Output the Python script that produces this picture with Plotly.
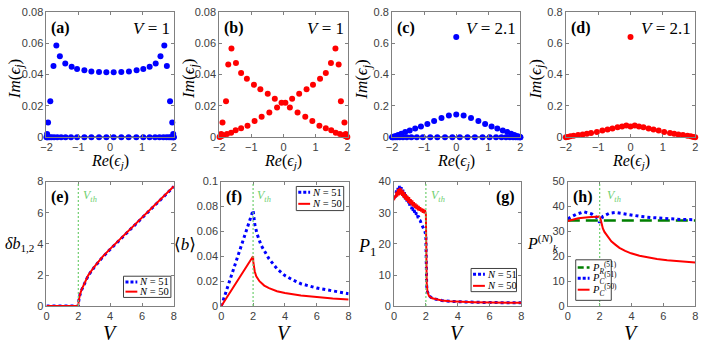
import plotly.graph_objects as go
from plotly.subplots import make_subplots

# ---- top row: eigenvalue spectra ----
zero_row_x = [-2.0, -1.98, -1.95, -1.9, -1.84, -1.76, -1.66, -1.54, -1.4, -1.23, -1.04, -0.81, -0.59,
              -0.35, -0.12, 0.11, 0.35, 0.58, 0.82, 1.04, 1.24, 1.41, 1.55, 1.67, 1.77, 1.85, 1.91,
              1.96, 1.99, 2.0]
zero_row_y = [0.0] * len(zero_row_x)
axis_line_x = [-2, 2]
axis_line_y = [0, 0]

a_x = [-1.98, -1.95, -1.88, -1.78, -1.69, -1.58, -1.41, -1.21, -1.04, -0.81, -0.59, -0.35, -0.12,
       0.11, 0.35, 0.59, 0.83, 1.04, 1.24, 1.43, 1.58, 1.70, 1.78, 1.88, 1.95, 1.98]
a_y = [0.002, 0.0094, 0.023, 0.0455, 0.0585, 0.0517, 0.047, 0.0449, 0.0435, 0.0427, 0.042, 0.0416,
       0.0414, 0.0414, 0.0416, 0.042, 0.0427, 0.0435, 0.0449, 0.047, 0.0517, 0.0585, 0.0455, 0.023,
       0.0094, 0.002]

b1_x = [-1.97, -1.94, -1.9, -1.79, -1.72, -1.62, -1.48, -1.32, -1.14, -0.92, -0.72, -0.49, -0.27,
        -0.06, 0.2, 0.44, 0.68, 0.9, 1.12, 1.32, 1.49, 1.63, 1.76, 1.87, 1.94, 1.99]
b1_y = [0.0005, 0.002, 0.0094, 0.023, 0.0464, 0.0566, 0.0474, 0.041, 0.0373, 0.0334, 0.0306, 0.0277,
        0.0246, 0.022, 0.019, 0.0158, 0.0131, 0.0103, 0.0074, 0.0057, 0.0045, 0.0029, 0.002, 0.0012,
        0.0006, 0.0002]
b2_x = [1.97, 1.94, 1.9, 1.79, 1.72, 1.62, 1.48, 1.32, 1.14, 0.92, 0.72, 0.49, 0.27,
        0.06, -0.2, -0.44, -0.68, -0.9, -1.12, -1.32, -1.49, -1.63, -1.76, -1.87, -1.94, -1.99]
b2_y = [0.0005, 0.002, 0.0094, 0.023, 0.0464, 0.0566, 0.0474, 0.041, 0.0373, 0.0334, 0.0306, 0.0277,
        0.0246, 0.022, 0.019, 0.0158, 0.0131, 0.0103, 0.0074, 0.0057, 0.0045, 0.0029, 0.002, 0.0012,
        0.0006, 0.0002]

c_x = [-1.98, -1.94, -1.88, -1.81, -1.71, -1.59, -1.45, -1.28, -1.1, -0.9, -0.69, -0.46, -0.23, 0.0,
       0.23, 0.46, 0.69, 0.9, 1.1, 1.28, 1.45, 1.59, 1.71, 1.81, 1.88, 1.94, 1.98]
c_y = [0.001, 0.004, 0.008, 0.014, 0.022, 0.033, 0.043, 0.055, 0.068, 0.085, 0.103, 0.122, 0.138, 0.145,
       0.138, 0.122, 0.103, 0.085, 0.068, 0.055, 0.043, 0.033, 0.022, 0.014, 0.008, 0.004, 0.001]
isolated_x = [0.0]
isolated_y = [0.64]

d_x = [-2.0, -1.94, -1.86, -1.76, -1.62, -1.48, -1.35, -1.22, -1.04, -0.87, -0.71, -0.56, -0.40, -0.26,
       -0.13, 0.0, 0.13, 0.26, 0.40, 0.56, 0.71, 0.87, 1.04, 1.22, 1.35, 1.48, 1.62, 1.76, 1.86, 1.94, 2.0]
d_y = [0.0, 0.002, 0.006, 0.01, 0.014, 0.018, 0.023, 0.027, 0.033, 0.043, 0.049, 0.055, 0.064, 0.068,
       0.075, 0.069, 0.075, 0.068, 0.064, 0.055, 0.049, 0.043, 0.033, 0.027, 0.023, 0.018, 0.014, 0.01,
       0.006, 0.002, 0.0]

# ---- bottom row: observables vs V ----
e_V = [0, 1, 1.99, 2.0, 2.02, 2.05, 2.1, 2.2, 2.4, 2.62, 3, 3.5, 4, 4.5, 5, 6, 7, 8]
e_51 = [0, 0, 0, 0, 0.3, 0.5, 0.72, 1.02, 1.47, 1.95, 2.5, 3.12, 3.65, 4.15, 4.65, 5.67, 6.68, 7.68]
e_50 = [0, 0, 0, 0, 0.32, 0.52, 0.74, 1.04, 1.5, 1.98, 2.53, 3.15, 3.68, 4.18, 4.68, 5.7, 6.7, 7.7]

f_V51 = [0, 2, 2.1, 2.25, 2.5, 2.75, 3, 3.5, 4, 4.5, 5, 6, 7, 8]
f_51 = [0, 0.077, 0.066, 0.058, 0.049, 0.043, 0.038, 0.030, 0.0245, 0.021, 0.018, 0.0145, 0.012, 0.010]
f_V50 = [0, 2.0, 2.01, 2.05, 2.1, 2.2, 2.4, 2.7, 3, 3.5, 4, 5, 6, 7, 8]
f_50 = [0, 0.040, 0.036, 0.031, 0.028, 0.024, 0.020, 0.0165, 0.0145, 0.012, 0.0105, 0.0085, 0.0072,
        0.0061, 0.0053]

g_V = [0, 0.05, 0.1, 0.15, 0.2, 0.25, 0.3, 0.35, 0.4, 0.45, 0.5, 0.55, 0.6, 0.65, 0.7, 0.75, 0.8,
       0.85, 0.9, 0.95, 1.0, 1.05, 1.1, 1.15, 1.2, 1.25, 1.3, 1.35, 1.4, 1.45, 1.5, 1.55, 1.6, 1.65,
       1.7, 1.75, 1.8, 1.85, 1.9, 1.95, 2.0, 2.02, 2.05, 2.1, 2.2, 2.4, 2.7, 3, 3.5, 4, 5, 6, 7, 8]
g_51 = [34.5, 36.0, 35.0, 37.2, 35.8, 38.0, 36.4, 38.6, 36.6, 38.2, 36.0, 37.4, 35.2, 36.6, 34.4,
        35.8, 33.6, 35.0, 32.8, 34.0, 32.0, 33.0, 31.2, 32.2, 30.6, 31.2, 30.0, 30.6, 29.4, 29.8,
        28.6, 28.6, 27.6, 27.4, 26.6, 26.2, 25.6, 25.0, 24.4, 23.8, 22.5, 12.0, 6.5, 4.6, 3.3,
        2.5, 2.1, 1.8, 1.55, 1.4, 1.25, 1.15, 1.1, 1.05]
g_50 = [34.0, 35.5, 34.8, 36.8, 35.2, 37.6, 35.6, 38.0, 35.8, 37.8, 35.4, 37.2, 34.8, 36.6, 34.2,
        36.0, 33.8, 35.4, 33.2, 35.0, 32.8, 34.4, 32.4, 34.0, 32.0, 33.4, 31.6, 33.0, 31.2, 32.6,
        30.8, 32.2, 30.6, 31.8, 30.4, 31.4, 30.0, 31.2, 29.8, 30.8, 29.5, 15.0, 7.5, 4.5, 3.2,
        2.5, 2.1, 1.8, 1.55, 1.4, 1.25, 1.15, 1.1, 1.05]

h_VR = [0, 8]
h_R51 = [34.4, 34.4]
h_VC51 = [0, 0.5, 1, 1.5, 1.8, 2, 2.2, 2.6, 3, 3.5, 4, 4.6, 5.2, 5.8, 6.5, 7.1, 8]
h_C51 = [35.1, 36.8, 37.9, 37.0, 35.7, 33.6, 36.0, 37.3, 37.6, 37.1, 36.5, 36.0, 35.6, 35.3, 35.0,
         34.8, 34.7]
h_VC50 = [0, 0.66, 1.28, 1.98, 2.03, 2.07, 2.12, 2.2, 2.3, 2.42, 2.6, 2.73, 3, 3.24, 3.6, 3.97, 4.5,
          5, 5.6, 6.24, 7, 8]
h_C50 = [34.2, 35.3, 35.7, 36.0, 35.6, 34.6, 33.0, 31.2, 29.8, 28.6, 27.0, 26.0, 24.6, 23.4, 22.2,
         21.2, 20.2, 19.5, 18.9, 18.4, 17.9, 17.5]

V_th = 2

W, H = 714, 343
SERIF = "Liberation Serif, DejaVu Serif, serif"
SANS = "Liberation Sans, Arial, sans-serif"
BLUE = "#0000ff"
RED = "#ff0000"
GREEN = "#007f00"
LIGHT_GREEN = "#6fcf6f"


def px(x):
    return x / W


def py(y):
    return 1 - y / H


fig = make_subplots(rows=2, cols=4)


def dots(x, y, color, row, col):
    fig.add_trace(go.Scatter(x=x, y=y, mode="markers", cliponaxis=False,
                             marker=dict(color=color, size=6), showlegend=False), row=row, col=col)


def curve(x, y, color, row, col, dash="solid", width=2):
    fig.add_trace(go.Scatter(x=x, y=y, mode="lines", cliponaxis=False,
                             line=dict(color=color, dash=dash, width=width), showlegend=False),
                  row=row, col=col)


# (a)
curve(axis_line_x, axis_line_y, "black", 1, 1, width=1.5)
dots(zero_row_x, zero_row_y, BLUE, 1, 1)
dots(a_x, a_y, BLUE, 1, 1)
# (b)
dots(b1_x, b1_y, RED, 1, 2)
dots(b2_x, b2_y, RED, 1, 2)
# (c)
curve(axis_line_x, axis_line_y, "black", 1, 3, width=1.5)
dots(zero_row_x, zero_row_y, BLUE, 1, 3)
dots(c_x, c_y, BLUE, 1, 3)
dots(isolated_x, isolated_y, BLUE, 1, 3)
# (d)
dots(d_x, d_y, RED, 1, 4)
dots(isolated_x, isolated_y, RED, 1, 4)

# (e)-(h)
curve(e_V, e_51, BLUE, 2, 1, dash="dot", width=3)
curve(e_V, e_50, RED, 2, 1, width=2)
curve(f_V51, f_51, BLUE, 2, 2, dash="dot", width=3)
curve(f_V50, f_50, RED, 2, 2, width=2)
curve(g_V, g_51, BLUE, 2, 3, dash="dot", width=3)
curve(g_V, g_50, RED, 2, 3, width=2)
curve(h_VR, h_R51, GREEN, 2, 4, dash="12px,6px", width=2.5)
curve(h_VC51, h_C51, BLUE, 2, 4, dash="dot", width=3)
curve(h_VC50, h_C50, RED, 2, 4, width=2)

# threshold lines (added after traces so the subplots are not empty)
for col in range(1, 5):
    fig.add_vline(x=V_th, row=2, col=col, line=dict(color=LIGHT_GREEN, dash="2px,2px", width=1.2))

axis_style = dict(showline=True, mirror="ticks", linecolor="#808080", linewidth=1, ticks="inside",
                  tickcolor="#808080", ticklen=3, showgrid=False, zeroline=False,
                  tickfont=dict(family=SANS, size=11, color="#404040"))

x_px = [(41, 170), (216, 346), (391, 521), (567, 698), (41, 170), (218, 347), (393, 522), (569, 698)]
y_px = [(6, 136)] * 4 + [(182, 311)] * 4
y_ranges = [[0, 0.08], [0, 0.08], [0, 0.8], [0, 0.8], [0, 8], [0, 0.1], [0, 40], [0, 50]]
y_dticks = [0.02, 0.02, 0.2, 0.2, 2, 0.02, 10, 10]

for i in range(8):
    n = "" if i == 0 else str(i + 1)
    top = i < 4
    fig.layout["xaxis" + n].update(domain=[px(x_px[i][0]), px(x_px[i][1])],
                                   range=[-2, 2] if top else [0, 8], dtick=1 if top else 2,
                                   **axis_style)
    fig.layout["yaxis" + n].update(domain=[py(y_px[i][1]), py(y_px[i][0])],
                                   range=y_ranges[i], dtick=y_dticks[i], **axis_style)


def note(text, x, y, size=16, color="black", xanchor="center", yanchor="middle", angle=0, family=SERIF):
    fig.add_annotation(text=text, x=px(x), y=py(y), xref="paper", yref="paper", showarrow=False,
                       font=dict(family=family, size=size, color=color), xanchor=xanchor,
                       yanchor=yanchor, textangle=angle)


re_label = "<i>Re</i>(<i>ϵ<sub>j</sub></i>)"
im_label = "<i>Im</i>(<i>ϵ<sub>j</sub></i>)"
panel_names = ["a", "b", "c", "d"]
v_texts = ["<i>V</i> = 1", "<i>V</i> = 1", "<i>V</i> = 2.1", "<i>V</i> = 2.1"]
ylab_x = [10, 187, 362, 538]
for i in range(4):
    x0, x1 = x_px[i]
    note(re_label, (x0 + x1) / 2, 161, size=16)
    note(im_label, ylab_x[i], 76, size=17, angle=-90)
    note("<b>(" + panel_names[i] + ")</b>", x0 + 3, 23, size=16, xanchor="left")
    note(v_texts[i], x1 - 2, 23, size=17, xanchor="right")

for i in range(4, 8):
    x0, x1 = x_px[i]
    note("<i>V</i>", (x0 + x1) / 2, 339, size=20)

note("<i>δb</i><sub>1,2</sub>", 14, 247, size=16)
note("⟨<i>b</i>⟩", 181, 247, size=17)
note("<i>P</i><sub>1</sub>", 366, 250, size=18)
note("<i>P</i><sup>(<i>N</i>)</sup><sub><i>k</i></sub>", 544, 246, size=16)

note("<b>(e)</b>", 44, 198, xanchor="left")
note("<b>(f)</b>", 221, 198, xanchor="left")
note("<b>(g)</b>", 518, 198, xanchor="right")
note("<b>(h)</b>", 572, 198, xanchor="left")
for xv in [76, 252, 428, 607]:
    note("<i>V<sub>th</sub></i>", xv, 197, size=12, color=LIGHT_GREEN, xanchor="left")


def legend_box(x0, y0, x1, y1, entries):
    fig.add_shape(type="rect", xref="paper", yref="paper", x0=px(x0), y0=py(y1), x1=px(x1), y1=py(y0),
                  line=dict(color="#404040", width=1), fillcolor="white")
    for label, color, dash, width, yy in entries:
        fig.add_shape(type="line", xref="paper", yref="paper", x0=px(x0 + 2), x1=px(x0 + 14),
                      y0=py(yy), y1=py(yy), line=dict(color=color, dash=dash, width=width))
        note(label, x0 + 14, yy, size=10.5, xanchor="left")


n51 = "<i>N</i> = 51"
n50 = "<i>N</i> = 50"
legend_box(119, 280, 167, 302, [(n51, BLUE, "3px,2px", 3, 286), (n50, RED, "solid", 2, 296)])
legend_box(294, 187, 342, 212, [(n51, BLUE, "3px,2px", 3, 193), (n50, RED, "solid", 2, 205)])
legend_box(471, 272, 517, 296, [(n51, BLUE, "3px,2px", 3, 278), (n50, RED, "solid", 2, 290)])
legend_box(577, 263, 613, 305, [("<i>P</i><sub><i>R</i></sub><sup>(51)</sup>", GREEN, "6px,3px", 2.5, 271),
                                ("<i>P</i><sub><i>C</i></sub><sup>(51)</sup>", BLUE, "3px,2px", 3, 282),
                                ("<i>P</i><sub><i>C</i></sub><sup>(50)</sup>", RED, "solid", 2, 294)])

fig.update_layout(width=W, height=H, margin=dict(l=0, r=0, t=0, b=0), plot_bgcolor="white",
                  paper_bgcolor="white", showlegend=False)

fig.write_html("out.html", config={"displayModeBar": False},
               post_script="document.body.style.margin='0';")
